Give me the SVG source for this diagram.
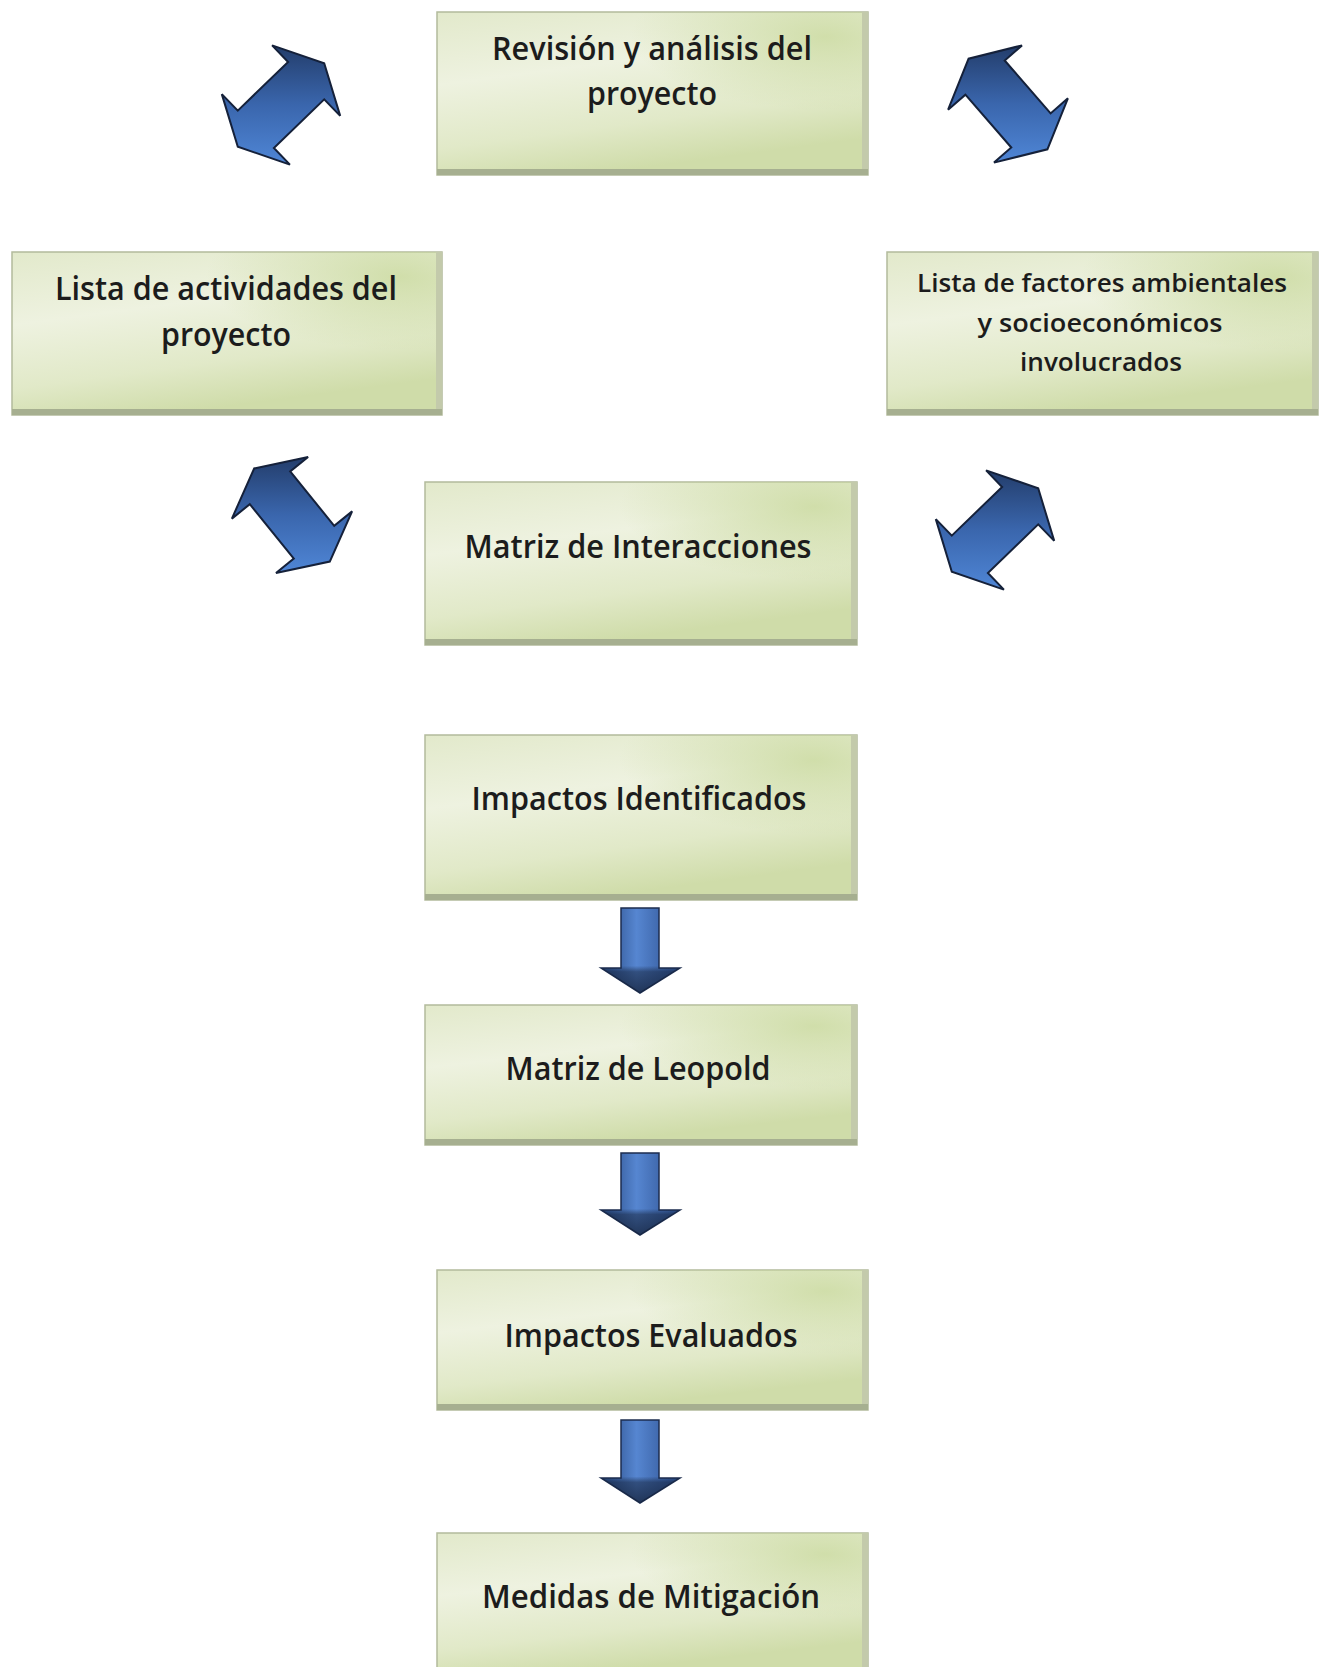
<svg xmlns="http://www.w3.org/2000/svg" width="1331" height="1667" viewBox="0 0 1331 1667">
<defs>
<linearGradient id="boxfill" x1="0" y1="0" x2="0.35" y2="1">
<stop offset="0" stop-color="#e2e9cb"/>
<stop offset="0.4" stop-color="#eef2e0"/>
<stop offset="0.75" stop-color="#e1e9c8"/>
<stop offset="1" stop-color="#cfdca9"/>
</linearGradient>
<radialGradient id="boxglow" cx="0.9" cy="0.15" r="0.45">
<stop offset="0" stop-color="#c9d99d" stop-opacity="0.8"/>
<stop offset="1" stop-color="#c9d99d" stop-opacity="0"/>
</radialGradient>
<linearGradient id="vshaft" x1="0" y1="0" x2="1" y2="0">
<stop offset="0" stop-color="#25457c"/>
<stop offset="0.45" stop-color="#5686d1"/>
<stop offset="1" stop-color="#2c4f8e"/>
</linearGradient>
<linearGradient id="vhead" x1="0" y1="0" x2="0" y2="1">
<stop offset="0" stop-color="#15233d" stop-opacity="0"/>
<stop offset="0.68" stop-color="#15233d" stop-opacity="0"/>
<stop offset="0.75" stop-color="#15233d" stop-opacity="0.55"/>
<stop offset="1" stop-color="#15233d" stop-opacity="0.8"/>
</linearGradient>
<linearGradient id="dfill" x1="0" y1="0" x2="0" y2="1">
<stop offset="0" stop-color="#233d6b"/>
<stop offset="0.5" stop-color="#3a66ad"/>
<stop offset="1" stop-color="#4f86d6"/>
</linearGradient>
</defs>
<style>
.box{fill:url(#boxfill);stroke:#b3bb9c;stroke-width:1.5}
.glow{fill:url(#boxglow)}
.shadow{fill:#a6af90}
.edge{fill:#c3caab}
.lbl{font-family:"Open Sans","Liberation Sans","DejaVu Sans",sans-serif;font-weight:600;fill:#1c1c1c;text-anchor:middle}
.big{font-size:33px}
.small{font-size:25px}
.darrow{fill:url(#dfill);stroke:#15213a;stroke-width:2;stroke-linejoin:miter}
.varrow{fill:url(#vshaft);stroke:#1c2d4f;stroke-width:1.5}
.vover{fill:url(#vhead)}
</style>
<rect width="1331" height="1667" fill="#ffffff"/>

<g id="connectors">
<polygon class="darrow" points="237.8,110.6 288.1,62.0 272.1,45.4 324.2,63.3 340.2,115.9 324.2,99.4 273.9,148.0 289.9,164.6 237.8,146.7 221.8,94.1"/>
<polygon class="darrow" points="1004.7,60.5 1050.6,113.4 1067.9,98.3 1047.4,149.3 994.0,162.6 1011.3,147.5 965.4,94.7 948.1,109.7 968.6,58.7 1022.0,45.4"/>
<polygon class="darrow" points="290.2,471.4 334.2,525.8 352.1,511.4 329.8,561.6 276.0,573.0 293.8,558.6 249.8,504.2 231.9,518.6 254.2,468.4 308.1,457.0"/>
<polygon class="darrow" points="951.8,535.6 1002.1,487.0 986.1,470.4 1038.2,488.3 1054.2,540.9 1038.2,524.4 987.9,573.0 1003.9,589.6 951.8,571.7 935.8,519.1"/>
<polygon class="varrow" points="621,908 659,908 659,968 680,968 640,993 601,968 621,968"/>
<polygon class="vover" points="621,908 659,908 659,968 680,968 640,993 601,968 621,968"/>
<polygon class="varrow" points="621,1153 659,1153 659,1210 680,1210 640,1235 601,1210 621,1210"/>
<polygon class="vover" points="621,1153 659,1153 659,1210 680,1210 640,1235 601,1210 621,1210"/>
<polygon class="varrow" points="621,1420 659,1420 659,1478 680,1478 640,1503 601,1478 621,1478"/>
<polygon class="vover" points="621,1420 659,1420 659,1478 680,1478 640,1503 601,1478 621,1478"/>
</g>

<g id="node-revision">
<rect class="box" x="437" y="12" width="431" height="163"/>
<rect class="glow" x="437" y="12" width="431" height="163"/>
<rect class="edge" x="862" y="12" width="6" height="163"/>
<rect class="shadow" x="437" y="169" width="431" height="6"/>
<text class="lbl big" x="652" y="60" textLength="320" lengthAdjust="spacingAndGlyphs">Revisión y análisis del</text>
<text class="lbl big" x="652" y="105" textLength="130" lengthAdjust="spacingAndGlyphs">proyecto</text>
</g>

<g id="node-actividades">
<rect class="box" x="12" y="252" width="430" height="163"/>
<rect class="glow" x="12" y="252" width="430" height="163"/>
<rect class="edge" x="436" y="252" width="6" height="163"/>
<rect class="shadow" x="12" y="409" width="430" height="6"/>
<text class="lbl big" x="226" y="300" textLength="342" lengthAdjust="spacingAndGlyphs">Lista de actividades del</text>
<text class="lbl big" x="226" y="346" textLength="130" lengthAdjust="spacingAndGlyphs">proyecto</text>
</g>

<g id="node-factores">
<rect class="box" x="887" y="252" width="431" height="163"/>
<rect class="glow" x="887" y="252" width="431" height="163"/>
<rect class="edge" x="1312" y="252" width="6" height="163"/>
<rect class="shadow" x="887" y="409" width="431" height="6"/>
<text class="lbl small" x="1102" y="292" textLength="370" lengthAdjust="spacingAndGlyphs">Lista de factores ambientales</text>
<text class="lbl small" x="1100" y="332" textLength="245" lengthAdjust="spacingAndGlyphs">y socioeconómicos</text>
<text class="lbl small" x="1101" y="371" textLength="162" lengthAdjust="spacingAndGlyphs">involucrados</text>
</g>

<g id="node-matriz-interacciones">
<rect class="box" x="425" y="482" width="432" height="163"/>
<rect class="glow" x="425" y="482" width="432" height="163"/>
<rect class="edge" x="851" y="482" width="6" height="163"/>
<rect class="shadow" x="425" y="639" width="432" height="6"/>
<text class="lbl big" x="638" y="558" textLength="347" lengthAdjust="spacingAndGlyphs">Matriz de Interacciones</text>
</g>

<g id="node-impactos-identificados">
<rect class="box" x="425" y="735" width="432" height="165"/>
<rect class="glow" x="425" y="735" width="432" height="165"/>
<rect class="edge" x="851" y="735" width="6" height="165"/>
<rect class="shadow" x="425" y="894" width="432" height="6"/>
<text class="lbl big" x="639" y="810" textLength="335" lengthAdjust="spacingAndGlyphs">Impactos Identificados</text>
</g>

<g id="node-matriz-leopold">
<rect class="box" x="425" y="1005" width="432" height="140"/>
<rect class="glow" x="425" y="1005" width="432" height="140"/>
<rect class="edge" x="851" y="1005" width="6" height="140"/>
<rect class="shadow" x="425" y="1139" width="432" height="6"/>
<text class="lbl big" x="638" y="1080" textLength="265" lengthAdjust="spacingAndGlyphs">Matriz de Leopold</text>
</g>

<g id="node-impactos-evaluados">
<rect class="box" x="437" y="1270" width="431" height="140"/>
<rect class="glow" x="437" y="1270" width="431" height="140"/>
<rect class="edge" x="862" y="1270" width="6" height="140"/>
<rect class="shadow" x="437" y="1404" width="431" height="6"/>
<text class="lbl big" x="651" y="1347" textLength="293" lengthAdjust="spacingAndGlyphs">Impactos Evaluados</text>
</g>

<g id="node-medidas">
<rect class="box" x="437" y="1533" width="431" height="140"/>
<rect class="glow" x="437" y="1533" width="431" height="140"/>
<rect class="edge" x="862" y="1533" width="6" height="140"/>
<text class="lbl big" x="651" y="1608" textLength="338" lengthAdjust="spacingAndGlyphs">Medidas de Mitigación</text>
</g>
</svg>
